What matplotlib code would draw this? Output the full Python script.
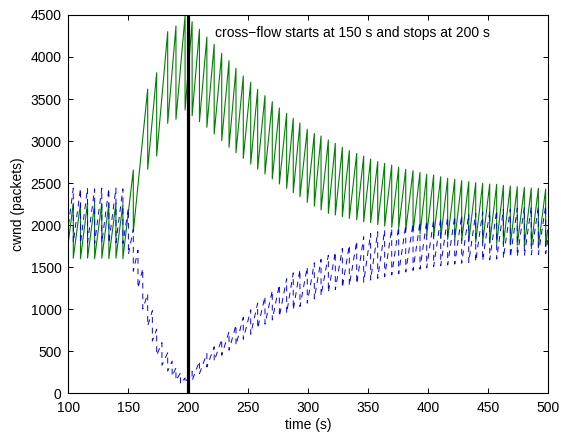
import matplotlib
matplotlib.use('Agg')
import matplotlib.pyplot as plt

plt.rcParams['font.family'] = ['Liberation Sans', 'DejaVu Sans']

# drop instants of the sawtooth (s), value just before the drop and just after it
green_drop_t = [104.0, 110.0, 115.9, 121.8, 127.8, 133.7, 139.6, 145.4,
                154.1, 166.1, 173.6, 182.8, 189.7, 197.3,
                203.2, 209.3, 215.5, 221.6, 227.9, 234.0, 239.8, 245.9, 252.1, 257.9,
                264.0, 270.1, 276.0, 282.1, 287.6, 293.2, 299.3, 305.2, 310.8, 316.9,
                322.7, 328.6, 334.4, 340.6, 346.4, 352.2, 358.1, 363.9, 369.8, 375.6,
                381.5, 387.6, 393.4, 399.0, 404.8, 410.7, 416.5, 422.4, 428.2, 434.1,
                439.9, 445.7, 451.6, 457.4, 463.0, 468.8, 474.6, 480.5, 486.3, 492.2, 498.3]
green_peak = [2260, 2255, 2260, 2250, 2260, 2255, 2260, 2250,
              2655, 3619, 3813, 4301, 4369, 4488,
              4420, 4330, 4237, 4150, 4044, 3956, 3865, 3774, 3699, 3615,
              3540, 3468, 3393, 3330, 3270, 3215, 3140, 3090, 3060, 3012,
              2972, 2925, 2885, 2853, 2821, 2786, 2754, 2734, 2714, 2687,
              2663, 2647, 2627, 2603, 2595, 2575, 2556, 2544, 2528, 2516,
              2504, 2496, 2488, 2484, 2472, 2464, 2456, 2448, 2440, 2437, 2429]
green_trough = [1605, 1600, 1605, 1600, 1605, 1600, 1605, 1600,
                1920, 2663, 2821, 3210, 3258, 3369,
                3300, 3230, 3163, 3083, 3004, 2925, 2861, 2794, 2726, 2663,
                2607, 2548, 2488, 2437, 2385, 2337, 2270, 2225, 2179, 2139,
                2119, 2099, 2079, 2062, 2040, 2028, 2005, 1988, 1972, 1960,
                1935, 1915, 1895, 1875, 1853, 1841, 1829, 1821, 1810, 1801,
                1794, 1786, 1782, 1774, 1770, 1762, 1758, 1754, 1750, 1742, 1742]
green_start, green_end = 1810, 1940

blue_drop_t = [104.0, 110.0, 115.9, 121.8, 127.8, 133.7, 139.6, 145.4,
               150.0, 154.1, 158.0, 162.0, 166.1, 170.0, 173.6, 178.0, 182.8,
               186.5, 189.7, 193.5, 197.3,
               203.2, 209.3, 215.5, 221.6, 227.9, 234.0, 239.8, 245.9, 252.1, 257.9,
               264.0, 270.1, 276.0, 282.1, 287.6, 293.2, 299.3, 305.2, 310.8, 316.9,
               322.7, 328.6, 334.4, 340.6, 346.4, 352.2, 358.1, 363.9, 369.8, 375.6,
               381.5, 387.6, 393.4, 399.0, 404.8, 410.7, 416.5, 422.4, 428.2, 434.1,
               439.9, 445.7, 451.6, 457.4, 463.0, 468.8, 474.6, 480.5, 486.3, 492.2, 498.3]
blue_peak = [2440, 2435, 2440, 2430, 2440, 2435, 2440, 2430,
             2200, 1950, 1700, 1480, 1180, 980, 760, 600, 480,
             380, 300, 240, 180,
             260, 380, 470, 550, 640, 730, 810, 900, 990, 1070,
             1150, 1220, 1290, 1360, 1430, 1470, 1500, 1550, 1590, 1640,
             1680, 1720, 1760, 1810, 1860, 1900, 1920, 1940, 1960, 1980,
             2000, 2020, 2035, 2050, 2065, 2080, 2095, 2105, 2115, 2130,
             2140, 2155, 2165, 2175, 2185, 2190, 2200, 2205, 2215, 2220, 2230]
blue_trough = [1790, 1785, 1790, 1780, 1790, 1785, 1790, 1780,
               1650, 1450, 1250, 1000, 800, 620, 450, 330, 260,
               200, 150, 110, 120,
               150, 230, 310, 380, 450, 510, 570, 640, 700, 770,
               820, 870, 910, 950, 990, 1030, 1070, 1120, 1160, 1200,
               1230, 1255, 1280, 1300, 1320, 1345, 1365, 1385, 1405, 1420,
               1440, 1460, 1475, 1490, 1505, 1515, 1525, 1535, 1545, 1555,
               1565, 1575, 1585, 1595, 1605, 1615, 1625, 1635, 1645, 1650, 1660]
blue_start, blue_end = 2000, 1820

t_event = 200
note = 'cross\u2212flow starts at 150 s and stops at 200 s'


def sawtooth(start, drops, peaks, troughs, end):
    xs, ys = [100], [start]
    for t, p, q in zip(drops, peaks, troughs):
        xs += [t, t]
        ys += [p, q]
    xs.append(500)
    ys.append(end)
    return xs, ys


fig = plt.figure(figsize=(5.61, 4.36), dpi=100)
ax = fig.add_axes([0.1221, 0.0986, 0.8542, 0.867])

gx, gy = sawtooth(green_start, green_drop_t, green_peak, green_trough, green_end)
bx, by = sawtooth(blue_start, blue_drop_t, blue_peak, blue_trough, blue_end)

ax.plot(gx, gy, color=(0, 0.5, 0), lw=0.8)
ax.plot(bx, by, color=(0, 0, 1), lw=0.7, ls=(0, (6, 5)))
ax.axvline(t_event, color='black', lw=2.3)

ax.text(222, 4290, note, fontsize=10, va='center', ha='left')

ax.set_xlim(100, 500)
ax.set_ylim(0, 4500)
ax.set_xticks(range(100, 501, 50))
ax.set_yticks(range(0, 4501, 500))
ax.tick_params(direction='in', top=True, right=True, length=3.5, width=0.7, labelsize=10)
ax.tick_params(axis='x', pad=6)
ax.tick_params(axis='y', pad=5)
for s in ax.spines.values():
    s.set_linewidth(0.8)
ax.set_xlabel('time (s)', fontsize=10, labelpad=2)
ax.set_ylabel('cwnd (packets)', fontsize=10, labelpad=4)

fig.savefig('out.png', dpi=100)
